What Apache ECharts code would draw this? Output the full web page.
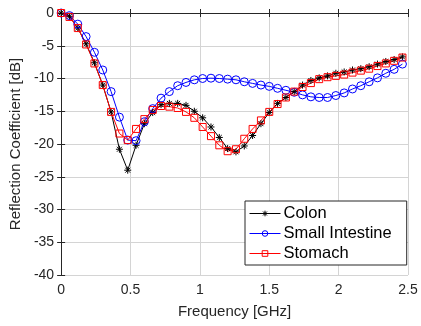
<!DOCTYPE html>
<html>
<head>
<meta charset="utf-8">
<script src="https://cdn.jsdelivr.net/npm/echarts@6/dist/echarts.min.js"></script>
<style>
  html, body { margin: 0; padding: 0; background: #fff; }
  #chart { width: 421px; height: 326px; }
</style>
</head>
<body>
<div id="chart"></div>
<script>
  // frequency points [GHz]
  const freq = [0, 0.06, 0.12, 0.18, 0.24, 0.3, 0.36, 0.42, 0.48, 0.54,
    0.6, 0.66, 0.72, 0.78, 0.84, 0.9, 0.96, 1.02, 1.08, 1.14,
    1.2, 1.26, 1.32, 1.38, 1.44, 1.5, 1.56, 1.62, 1.68, 1.74,
    1.8, 1.86, 1.92, 1.98, 2.04, 2.1, 2.16, 2.22, 2.28, 2.34,
    2.4, 2.46];

  const colon = [0, -0.5, -2.3, -4.7, -7.6, -11.0, -15.1, -20.8, -24.0, -20.2,
    -16.9, -15.2, -14.0, -13.8, -13.8, -14.1, -15.0, -16.0, -17.4, -19.0,
    -20.7, -21.2, -20.3, -18.7, -16.9, -15.2, -13.8, -12.9, -12.0, -11.0,
    -10.3, -9.9, -9.6, -9.2, -9.0, -8.7, -8.5, -8.2, -7.8, -7.4,
    -7.1, -6.7];

  const smallIntestine = [0, -0.4, -1.7, -3.6, -6.0, -8.7, -12.0, -15.9, -19.4, -19.5,
    -16.6, -14.6, -13.0, -12.0, -11.1, -10.6, -10.2, -10.0, -9.95, -10.0,
    -10.1, -10.2, -10.5, -10.75, -11.0, -11.2, -11.5, -11.8, -12.1, -12.5,
    -12.8, -12.9, -12.9, -12.6, -12.2, -11.6, -11.1, -10.5, -9.9, -9.2,
    -8.6, -7.8];

  const stomach = [0, -0.6, -2.3, -4.8, -7.7, -11.0, -15.1, -18.4, -19.4, -17.7,
    -16.2, -14.8, -14.2, -14.3, -14.5, -15.1, -16.0, -17.4, -18.8, -20.2,
    -21.1, -20.8, -19.2, -17.7, -16.4, -15.1, -13.9, -12.9, -12.0, -11.3,
    -10.7, -10.1, -9.8, -9.6, -9.4, -9.1, -8.8, -8.5, -8.1, -7.7,
    -7.3, -6.8];

  const seriesNames = ['Colon', 'Small Intestine', 'Stomach'];

  const font = 'Liberation Sans, Arial, Helvetica, sans-serif';
  const axisColor = '#262626';
  const gridColor = '#d4d4d4';

  const pairs = (ys) => freq.map((f, i) => [f, ys[i]]);

  const asterisk = 'path://M5,0L5,10M0,5L10,5M1.5,1.5L8.5,8.5M1.5,8.5L8.5,1.5';

  const makeSeries = (name, ys, color, symbol, size) => ({
    name: name,
    type: 'line',
    data: pairs(ys),
    symbol: symbol,
    symbolSize: size,
    showAllSymbol: true,
    lineStyle: { color: color, width: 1 },
    itemStyle: { color: 'rgba(0,0,0,0)', borderColor: color, borderWidth: 1 },
    emphasis: { disabled: true },
    animation: false,
  });

  const chart = echarts.init(document.getElementById('chart'));

  const option = {
    backgroundColor: '#fff',
    animation: false,
    grid: { left: 61, right: 13, top: 13, bottom: 51 },
    legend: {
      data: seriesNames,
      orient: 'vertical',
      left: 245,
      top: 201,
      padding: [4, 15, 3, 4],
      itemWidth: 31,
      itemHeight: 7,
      itemGap: 3,
      backgroundColor: '#fff',
      borderColor: axisColor,
      borderWidth: 1,
      borderRadius: 0,
      lineStyle: { width: 1 },
      itemStyle: { borderWidth: 1 },
      textStyle: { fontFamily: font, fontSize: 16.5, color: '#000', padding: [0, 0, 0, -2] },
    },
    xAxis: [
      {
        type: 'value',
        min: 0,
        max: 2.5,
        interval: 0.5,
        name: 'Frequency [GHz]',
        nameLocation: 'middle',
        nameGap: 29,
        nameTextStyle: { fontFamily: font, fontSize: 15, color: axisColor },
        axisLine: { show: true, lineStyle: { color: axisColor, width: 1 } },
        axisTick: { show: true, inside: true, length: 4, lineStyle: { color: axisColor } },
        axisLabel: { fontFamily: font, fontSize: 14, color: axisColor, margin: 8 },
        splitLine: { show: true, lineStyle: { color: gridColor, width: 1 } },
      },
      {
        type: 'value',
        position: 'top',
        min: 0,
        max: 2.5,
        interval: 0.5,
        axisLine: { show: true, lineStyle: { color: axisColor, width: 1 } },
        axisTick: { show: true, inside: true, length: 4, lineStyle: { color: axisColor } },
        axisLabel: { show: false },
        splitLine: { show: false },
      },
    ],
    yAxis: [
      {
        type: 'value',
        min: -40,
        max: 0,
        interval: 5,
        name: 'Reflection Coefficient [dB]',
        nameLocation: 'middle',
        nameGap: 38,
        nameTextStyle: { fontFamily: font, fontSize: 15, color: axisColor },
        axisLine: { show: true, lineStyle: { color: axisColor, width: 1 } },
        axisTick: { show: true, inside: true, length: 4, lineStyle: { color: axisColor } },
        axisLabel: { fontFamily: font, fontSize: 14, color: axisColor, margin: 7 },
        splitLine: { show: true, lineStyle: { color: gridColor, width: 1 } },
      },
      {
        type: 'value',
        position: 'right',
        min: -40,
        max: 0,
        interval: 5,
        axisLine: { show: true, lineStyle: { color: axisColor, width: 1 } },
        axisTick: { show: true, inside: true, length: 4, lineStyle: { color: axisColor } },
        axisLabel: { show: false },
        splitLine: { show: false },
      },
    ],
    series: [
      makeSeries(seriesNames[0], colon, '#000000', asterisk, 7),
      makeSeries(seriesNames[1], smallIntestine, '#0000ff', 'circle', 8),
      makeSeries(seriesNames[2], stomach, '#ff0000', 'rect', 7),
    ],
  };

  chart.setOption(option);
</script>
</body>
</html>
